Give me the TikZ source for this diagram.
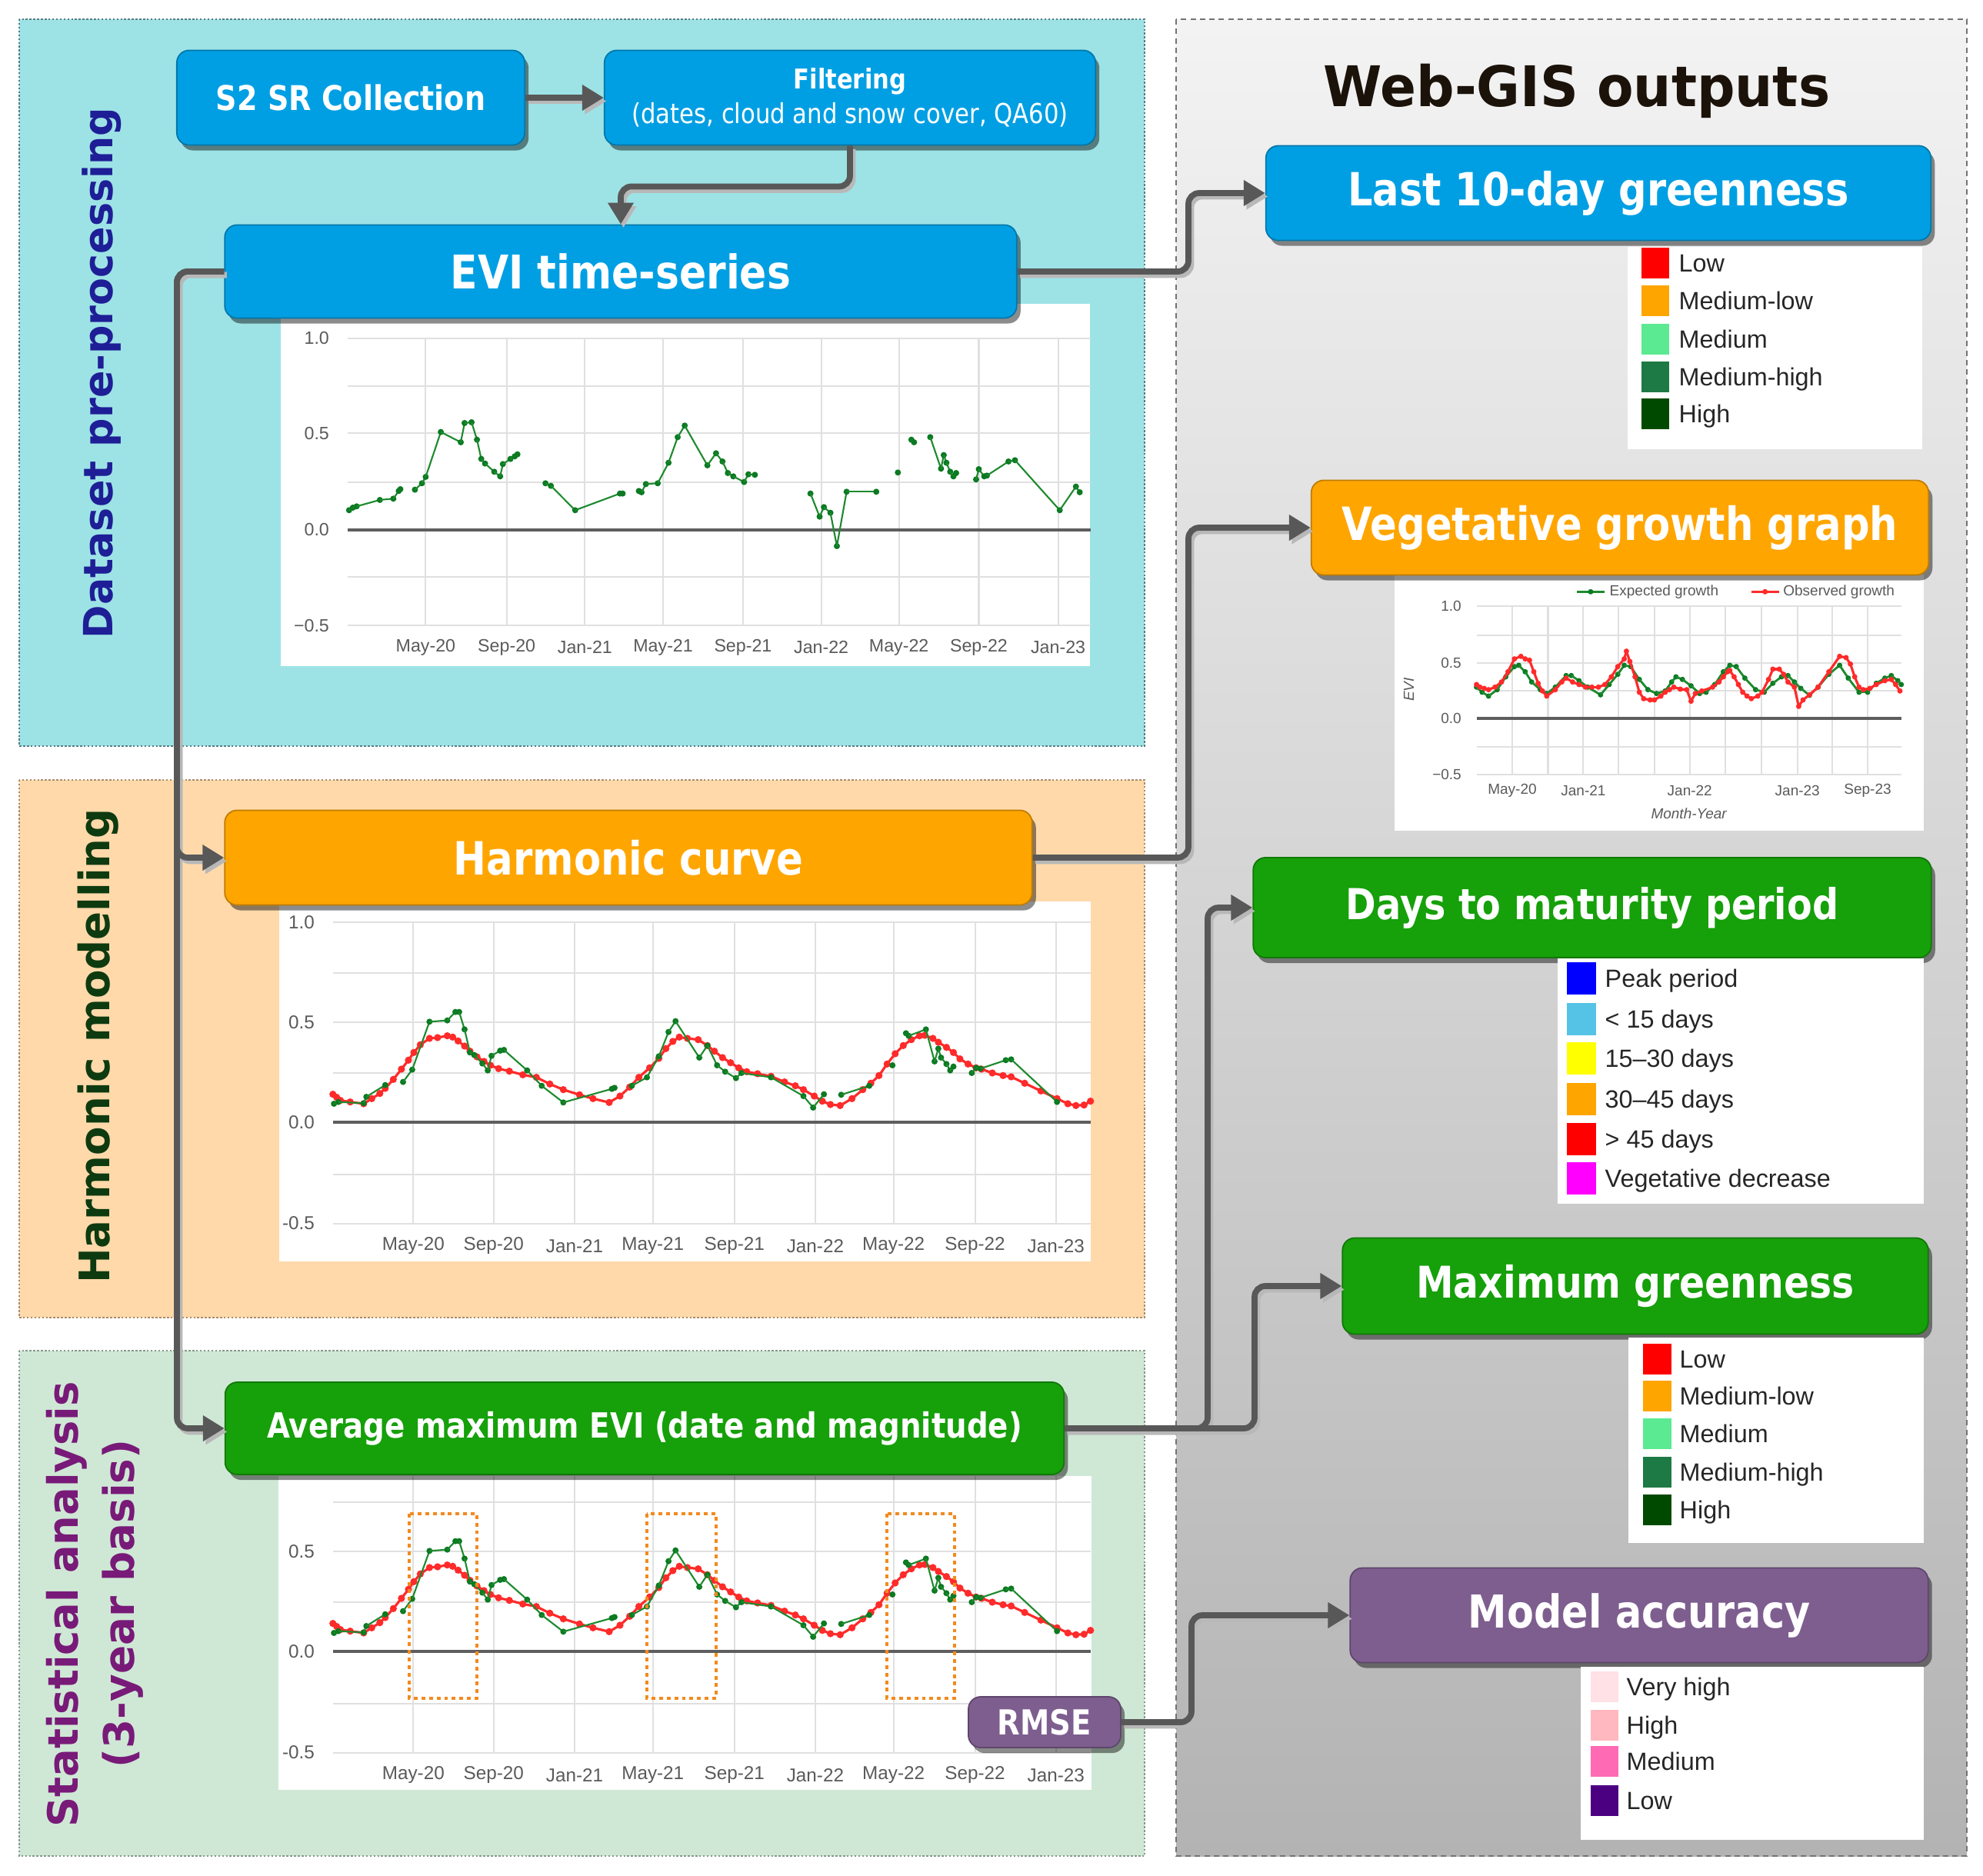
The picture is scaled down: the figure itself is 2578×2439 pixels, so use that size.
\documentclass[tikz,border=0pt]{standalone}
\usepackage{fontspec}
\setmainfont{Liberation Sans}
\newfontfamily\dvs{DejaVu Sans}
\usepackage{graphicx}
\usetikzlibrary{arrows.meta,shadows}
\definecolor{cblue}{HTML}{009FE3}
\definecolor{corange}{HTML}{FFA500}
\definecolor{cgreen}{HTML}{16A00A}
\definecolor{cpurple}{HTML}{7E5E8F}
\definecolor{pcyan}{HTML}{9DE3E6}
\definecolor{ppeach}{HTML}{FFD9AA}
\definecolor{pgreen}{HTML}{CFE8D5}
\definecolor{webtop}{HTML}{F3F3F3}
\definecolor{webbot}{HTML}{B3B3B3}
\definecolor{connc}{HTML}{585858}
\definecolor{navyt}{HTML}{1E1E96}
\definecolor{dgreent}{HTML}{0E3A10}
\definecolor{purpt}{HTML}{781A78}
\definecolor{titlec}{HTML}{1B120A}
\definecolor{gline}{HTML}{1D8A2E}
\definecolor{gdotc}{HTML}{0B7A22}
\definecolor{rline}{HTML}{FF2A2A}
\definecolor{gridc}{HTML}{E0E0E0}
\definecolor{axc}{HTML}{5E5E5E}
\definecolor{labc}{HTML}{5A5A5A}
\definecolor{sw1}{HTML}{FF0000}
\definecolor{sw2}{HTML}{FFA500}
\definecolor{sw3}{HTML}{5BEA91}
\definecolor{sw4}{HTML}{1E7A44}
\definecolor{sw5}{HTML}{004A00}
\definecolor{dm1}{HTML}{0000FF}
\definecolor{dm2}{HTML}{55C3E6}
\definecolor{dm3}{HTML}{FFFF00}
\definecolor{dm4}{HTML}{FFA500}
\definecolor{dm5}{HTML}{FF0000}
\definecolor{dm6}{HTML}{FF00FF}
\definecolor{ma1}{HTML}{FFE1E6}
\definecolor{ma2}{HTML}{FFB8BF}
\definecolor{ma3}{HTML}{FF6AB4}
\definecolor{ma4}{HTML}{4B0082}
\definecolor{orbox}{HTML}{F28A1E}
\newcommand{\fitw}[2]{\resizebox{#1}{!}{#2}}
\newcommand{\fitb}[2]{\resizebox{#1}{!}{\scalebox{0.86}[1]{#2}}}
\newcommand{\ser}[4]{\foreach \p [count=\i, remember=\p as \q (initially X)] in {#4}{\ifnum\i>1 \draw[#1] \q -- \p;\fi\fill[#2] \p circle[#3];}}
\newcommand{\harmplot}{%
\ser{rl}{rline}{x radius=6.6, y radius=14}{(118,818),(125,830),(132,842),(150,848),(175,855),(190,835),(205,815),(215,795),(230,760),(245,720),(258,685),(268,655),(280,625),(297,600),(312,597),(330,590),(340,595),(350,610),(362,630),(372,650),(385,672),(398,690),(410,705),(425,718),(445,728),(470,742),(495,752),(520,778),(545,800),(575,820),(600,835),(630,850),(650,825),(668,790),(685,752),(705,715),(722,678),(735,640),(748,612),(760,595),(775,600),(795,605),(812,628),(825,650),(840,675),(855,695),(870,715),(885,730),(905,738),(930,748),(955,770),(975,785),(990,800),(1010,825),(1025,845),(1040,858),(1058,862),(1080,835),(1100,800),(1115,775),(1130,745),(1145,700),(1160,660),(1175,628),(1190,605),(1205,590),(1215,588),(1230,600),(1240,615),(1255,635),(1268,655),(1280,680),(1295,700),(1310,715),(1320,720),(1340,735),(1360,745),(1375,750),(1400,775),(1430,805),(1460,835),(1480,855),(1495,862),(1510,860),(1522,845)}
\ser{gl}{gdotc}{x radius=5.7, y radius=12}{(120,855),(128,848),(175,853),(180,828),(215,782)}
\ser{gl}{gdotc}{x radius=5.7, y radius=12}{(248,770),(265,722),(297,535),(330,530),(345,497),(352,497),(362,565),(372,655),(380,665),(395,698),(405,725),(412,668),(428,648),(435,645),(478,725),(505,785),(545,850),(635,797),(640,793)}
\ser{gl}{gdotc}{x radius=5.7, y radius=12}{(672,785),(700,752),(722,670),(740,575),(753,533),(797,675),(812,628),(830,705),(845,730),(865,755),(875,735),(930,752),(990,825),(1008,870),(1028,818)}
\ser{gl}{gdotc}{x radius=5.7, y radius=12}{(1060,820),(1112,785)}
\ser{gl}{gdotc}{x radius=5.7, y radius=12}{(1155,705)}
\ser{gl}{gdotc}{x radius=5.7, y radius=12}{(1180,580),(1185,590),(1217,565),(1233,690),(1240,640),(1245,675),(1255,700),(1262,725),(1268,710)}
\ser{gl}{gdotc}{x radius=5.7, y radius=12}{(1302,735),(1310,715),(1318,718),(1365,685),(1375,682),(1460,848)}
}
\tikzset{
  box/.style={rounded corners=0.16cm, fill=#1, draw=#1!75!black, line width=0.5pt, text=white, inner sep=0pt,
    drop shadow={shadow xshift=0.05cm, shadow yshift=-0.07cm, opacity=0.45, fill=black}},
  conn/.style={draw=connc, line width=2.2pt, rounded corners=0.14cm, -{Triangle[length=0.28cm,width=0.32cm]}},
  connsh/.style={draw=black!28, line width=2.2pt, rounded corners=0.14cm, -{Triangle[length=0.28cm,width=0.32cm]},
    transform canvas={shift={(0.035cm,-0.045cm)}}},
  grid/.style={draw=gridc, line width=0.6pt},
  zero/.style={draw=axc, line width=1.1pt},
  gl/.style={draw=gline, line width=0.6pt},
  rl/.style={draw=rline, line width=0.9pt},
  xl1/.style={font=\fontsize{6.6}{7}\selectfont, text=labc, inner sep=0pt},
  xl2/.style={font=\fontsize{6.9}{7}\selectfont, text=labc, inner sep=0pt},
  xl4/.style={font=\fontsize{5.4}{6}\selectfont, text=labc, inner sep=0pt},
  leg/.style={anchor=base west, font=\fontsize{9.2}{11}\selectfont, text=black!85, inner sep=0pt},
  vlab/.style={rotate=90, inner sep=0pt},
}
\begin{document}
\begin{tikzpicture}[x=0.01cm, y=-0.01cm]
\useasboundingbox (0,0) rectangle (2578,2439);
\fill[white] (0,0) rectangle (2578,2439);
% ---------- panels
\fill[pcyan] (25,25) rectangle (1488,970);
\draw[draw=black!45!pcyan, line width=0.6pt, dash pattern=on 0.7pt off 0.7pt] (25,25) rectangle (1488,970);
\fill[ppeach] (25,1014) rectangle (1488,1713);
\draw[draw=black!35!ppeach, line width=0.6pt, dash pattern=on 0.7pt off 0.7pt] (25,1014) rectangle (1488,1713);
\fill[pgreen] (25,1756) rectangle (1488,2413);
\draw[draw=black!35!pgreen, line width=0.6pt, dash pattern=on 0.7pt off 0.7pt] (25,1756) rectangle (1488,2413);
\shade[top color=webtop, bottom color=webbot] (1529,25) rectangle (2557,2413);
\draw[draw=black!55, line width=0.5pt, dash pattern=on 2pt off 1.5pt] (1529,25) rectangle (2557,2413);
% ---------- chart 1 (EVI time-series)
\begin{scope}[shift={(350,380)}, xscale=0.7015, yscale=0.3333]
\fill[white] (21,45) rectangle (1521,1458);
\foreach \y in {180,367,550,740,1110,1300} \draw[grid] (145,\y) -- (1522,\y);
\foreach \x in {290,440,585,730,878,1023,1167,1315,1462} \draw[grid] (\x,180) -- (\x,1300);
\draw[zero] (145,927) -- (1522,927);
\foreach \x/\t [count=\i] in {290/May-20,440/Sep-20,585/Jan-21,730/May-21,878/Sep-21,1023/Jan-22,1167/May-22,1315/Sep-22,1462/Jan-23}
  \node[xl1] (ax\i) at (\x,1385) {\t};
\foreach \y/\t [count=\i] in {180/1.0,550/0.5,927/0.0,1300/−0.5}
  \node[xl1, anchor=east] (ay\i) at (112,\y) {\t};
\ser{gl}{gdotc}{x radius=5.7, y radius=12}{(148,850),(155,840),(162,835),(205,810),(230,805),(240,775),(243,768)}
\ser{gl}{gdotc}{x radius=5.7, y radius=12}{(270,770),(283,745),(290,720),(318,545),(355,585),(362,510),(375,507),(385,575),(393,650),(400,668),(417,700),(428,718),(433,670),(447,650),(455,640),(460,632)}
\ser{gl}{gdotc}{x radius=5.7, y radius=12}{(512,745),(522,755),(567,850),(650,785),(655,785)}
\ser{gl}{gdotc}{x radius=5.7, y radius=12}{(685,775),(690,780),(698,748),(720,745),(740,665),(757,565),(770,520),(812,675),(828,628),(840,660),(850,705),(860,718),(880,740),(888,710),(900,712)}
\ser{gl}{gdotc}{x radius=5.7, y radius=12}{(1003,785),(1020,875),(1028,838),(1040,860),(1052,990),(1070,778),(1125,778)}
\ser{gl}{gdotc}{x radius=5.7, y radius=12}{(1165,703)}
\ser{gl}{gdotc}{x radius=5.7, y radius=12}{(1190,575),(1195,585)}
\ser{gl}{gdotc}{x radius=5.7, y radius=12}{(1225,565),(1245,688),(1250,635),(1255,665),(1262,700),(1268,718),(1273,705)}
\ser{gl}{gdotc}{x radius=5.7, y radius=12}{(1310,730),(1315,690),(1325,718),(1330,715),(1370,660),(1382,655),(1465,850),(1495,758),(1502,780)}
\end{scope}
% ---------- chart 2 (harmonic)
\begin{scope}[shift={(350,1150)}, xscale=0.7015, yscale=0.3333]
\fill[white] (18,66) rectangle (1522,1470);
\foreach \y in {148,345,537,735,1130,1322} \draw[grid] (118,\y) -- (1522,\y);
\foreach \x in {267,416,566,711,862,1012,1157,1308,1458} \draw[grid] (\x,148) -- (\x,1322);
\draw[zero] (118,928) -- (1522,928);
\foreach \x/\t [count=\i] in {267/May-20,416/Sep-20,566/Jan-21,711/May-21,862/Sep-21,1012/Jan-22,1157/May-22,1308/Sep-22,1458/Jan-23}
  \node[xl2] (bx\i) at (\x,1410) {\t};
\foreach \y/\t [count=\i] in {148/1.0,537/0.5,928/0.0,1322/-0.5}
  \node[xl2, anchor=east] (by\i) at (85,\y) {\t};
\harmplot
\end{scope}
% ---------- chart 3 (statistics)
\begin{scope}[shift={(350,1838)}, xscale=0.7015, yscale=0.3333]
\fill[white] (17,243) rectangle (1524,1467);
\foreach \y in {345,537,735,1130,1322} \draw[grid] (118,\y) -- (1522,\y);
\foreach \x in {267,416,566,711,862,1012,1157,1308,1458} \draw[grid] (\x,243) -- (\x,1322);
\draw[zero] (118,928) -- (1522,928);
\foreach \x/\t [count=\i] in {267/May-20,416/Sep-20,566/Jan-21,711/May-21,862/Sep-21,1012/Jan-22,1157/May-22,1308/Sep-22,1458/Jan-23}
  \node[xl2] (cx\i) at (\x,1410) {\t};
\foreach \y/\t [count=\i] in {537/0.5,928/0.0,1322/-0.5}
  \node[xl2, anchor=east] (cy\i) at (85,\y) {\t};
\harmplot
\end{scope}
\foreach \a/\b in {532/620,841/931,1153/1241}
  \draw[orbox, line width=1.4pt, dash pattern=on 1.4pt off 1.4pt] (\a,1968) rectangle (\b,2208);
% ---------- chart 4 (vegetative growth)
\begin{scope}[shift={(1700,600)}, xscale=0.56, yscale=0.3333]
\fill[white] (202,440) rectangle (1431,1440);
\foreach \y in {565,678,785,895,1113,1222} \draw[grid] (392,\y) -- (1378,\y);
\foreach \x in {475,558,640,722,805,887,970,1053,1137,1218,1300} \draw[grid] (\x,565) -- (\x,1222);
\draw[zero] (392,1003) -- (1378,1003);
\foreach \x/\t [count=\i] in {475/May-20,640/Jan-21,887/Jan-22,1137/Jan-23,1300/Sep-23}
  \node[xl4] (dx\i) at (\x,1285) {\t};
\foreach \y/\t [count=\i] in {565/1.0,785/0.5,1003/0.0,1222/−0.5}
  \node[xl4, anchor=east] (dy\i) at (358,\y) {\t};
\node[xl4, font=\fontsize{5.4}{6}\selectfont\itshape] (dxt) at (885,1372) {Month-Year};
\node[xl4, font=\fontsize{5.4}{6}\selectfont\itshape, rotate=90] (dyt) at (235,890) {EVI};
\draw[gl, line width=0.8pt] (625,508) -- (690,508);
\fill[gdotc] (657,508) circle[x radius=6.2, y radius=10.5];
\node[xl4, anchor=west] (lgE) at (700,508) {Expected growth};
\draw[rl] (1030,508) -- (1095,508);
\fill[rline] (1062,508) circle[x radius=6.2, y radius=10.5];
\node[xl4, anchor=west] (lgO) at (1103,508) {Observed growth};
\ser{gl, line width=0.8pt}{gdotc}{x radius=6.2, y radius=10.5}{(392,880),(405,900),(420,915),(440,890),(460,840),(480,800),(490,795),(505,820),(520,860),(540,890),(555,905),(575,880),(600,835),(612,835),(630,855),(650,880),(680,910),(700,870),(720,830),(735,795),(750,800),(770,850),(790,890),(810,905),(830,895),(845,860),(855,840),(870,850),(890,875),(910,905),(925,900),(945,870),(965,820),(980,795),(995,800),(1015,845),(1040,890),(1060,900),(1080,865),(1100,840),(1115,835),(1130,860),(1145,885),(1165,912),(1185,880),(1210,830),(1235,795),(1255,845),(1280,900),(1300,900),(1320,865),(1340,845),(1355,835),(1370,855),(1378,870)}
\ser{rl}{rline}{x radius=6.2, y radius=10.5}{(392,870),(400,880),(410,885),(420,890),(435,880),(450,860),(465,820),(480,770),(495,760),(505,770),(515,775),(525,820),(535,865),(545,895),(555,915),(575,890),(590,860),(600,845),(615,860),(630,870),(645,880),(660,880),(675,880),(690,870),(705,840),(720,800),(735,770),(740,740),(748,780),(760,840),(770,900),(780,925),(795,930),(805,930),(820,915),(830,900),(840,890),(850,880),(865,888),(880,890),(890,935),(900,905),(915,895),(940,880),(955,860),(965,840),(975,820),(980,815),(990,840),(1000,870),(1010,900),(1020,915),(1030,925),(1045,915),(1055,900),(1070,850),(1080,810),(1095,810),(1105,830),(1115,860),(1130,880),(1140,955),(1150,930),(1165,910),(1185,880),(1210,820),(1235,760),(1250,765),(1260,790),(1270,840),(1280,880),(1290,890),(1305,885),(1320,870),(1340,855),(1355,850),(1365,870),(1375,895)}
\end{scope}
% ---------- vertical panel labels
\node[vlab, text=navyt] (lab1) at (132,485) {\fitw{6.9cm}{\dvs\bfseries Dataset pre-processing}};
\node[vlab, text=dgreent] (lab2) at (128,1360) {\fitw{6.17cm}{\dvs\bfseries Harmonic modelling}};
\node[vlab, text=purpt] (lab3) at (87,2086) {\fitw{5.79cm}{\dvs\bfseries Statistical analysis}};
\node[vlab, text=purpt] (lab4) at (160,2085) {\fitw{4.27cm}{\dvs\bfseries (3-year basis)}};
% ---------- title
\node[text=titlec, inner sep=0pt] (title) at (2050,118) {\resizebox{6.58cm}{!}{\scalebox{0.95}[1]{\dvs\bfseries Web-GIS outputs}}};
% ---------- process boxes
\node[box=cblue, minimum width=4.52cm, minimum height=1.23cm] (s2) at (456,127) {\fitb{3.5cm}{\dvs\bfseries S2 SR Collection}};
\node[box=cblue, minimum width=6.38cm, minimum height=1.23cm, align=center] (filt) at (1105,127) {\fitb{1.46cm}{\dvs\bfseries Filtering}\\[1pt]\fitb{5.67cm}{\dvs (dates, cloud and snow cover, QA60)}};
\node[box=cblue, minimum width=10.29cm, minimum height=1.21cm] (evi) at (807,353) {\fitb{4.42cm}{\dvs\bfseries EVI time-series}};
\node[box=corange, minimum width=10.49cm, minimum height=1.23cm] (harm) at (817,1115) {\fitb{4.54cm}{\dvs\bfseries Harmonic curve}};
\node[box=cgreen, minimum width=10.9cm, minimum height=1.2cm] (avg) at (838,1857) {\fitb{9.81cm}{\dvs\bfseries Average maximum EVI (date and magnitude)}};
\node[box=cpurple, minimum width=1.98cm, minimum height=0.66cm] (rmse) at (1358,2239) {\fitb{1.22cm}{\dvs\bfseries RMSE}};
% ---------- output boxes
\node[box=cblue, minimum width=8.64cm, minimum height=1.23cm] (last10) at (2078,251) {\fitb{6.51cm}{\dvs\bfseries Last 10-day greenness}};
\node[box=corange, minimum width=8.02cm, minimum height=1.23cm] (veg) at (2106,686) {\fitb{7.22cm}{\dvs\bfseries Vegetative growth graph}};
\node[box=cgreen, minimum width=8.81cm, minimum height=1.3cm] (days) at (2070,1180) {\fitb{6.4cm}{\dvs\bfseries Days to maturity period}};
\node[box=cgreen, minimum width=7.61cm, minimum height=1.25cm] (maxg) at (2126,1672) {\fitb{5.69cm}{\dvs\bfseries Maximum greenness}};
\node[box=cpurple, minimum width=7.51cm, minimum height=1.23cm] (model) at (2131,2100) {\fitb{4.44cm}{\dvs\bfseries Model accuracy}};
% ---------- connectors
\coordinate (lb) at (230,353);
\coordinate (r1) at (1545,353);
\coordinate (r2) at (1545,1115);
\coordinate (r3) at (1570,1857);
\coordinate (r4) at (1631,1857);
\coordinate (r5) at (1549,2239);
\foreach \st in {connsh,conn}{
\draw[\st] (s2.east) -- (filt.west);
\draw[\st] (filt.south) -- ++(0,53) -| (evi.north);
\draw[\st] (evi.west) -- (lb) |- (harm.west);
\draw[\st] (evi.west) -- (lb) |- (avg.west);
\draw[\st] (evi.east) -- (r1) |- (last10.west);
\draw[\st] (harm.east) -- (r2) |- (veg.west);
\draw[\st] (avg.east) -- (r3) |- (days.west);
\draw[\st] (avg.east) -- (r4) |- (maxg.west);
\draw[\st] (rmse.east) -- (r5) |- (model.west);
}
% ---------- legends
\fill[white] (2116,321) rectangle (2499,584);
\foreach \y/\c/\t [count=\i] in {342/sw1/Low,391/sw2/Medium-low,441/sw3/Medium,490/sw4/Medium-high,538/sw5/High}{
  \fill[\c] (2134,\y-20) rectangle (2170,\y+20);
  \node[leg] (la\i) at (2182,\y+11) {\t};}
\fill[white] (2025,1246) rectangle (2501,1565);
\foreach \y/\c/\t [count=\i] in {1272/dm1/Peak period,1325/dm2/< 15 days,1376/dm3/15–30 days,1429/dm4/30–45 days,1481/dm5/> 45 days,1532/dm6/Vegetative decrease}{
  \fill[\c] (2037,\y-21) rectangle (2075,\y+21);
  \node[leg] (lb\i) at (2086,\y+11) {\t};}
\fill[white] (2117,1739) rectangle (2501,2006);
\foreach \y/\c/\t [count=\i] in {1767/sw1/Low,1815/sw2/Medium-low,1864/sw3/Medium,1914/sw4/Medium-high,1963/sw5/High}{
  \fill[\c] (2136,\y-20) rectangle (2173,\y+20);
  \node[leg] (lc\i) at (2183,\y+11) {\t};}
\fill[white] (2055,2167) rectangle (2501,2392);
\foreach \y/\c/\t [count=\i] in {2193/ma1/Very high,2243/ma2/High,2290/ma3/Medium,2341/ma4/Low}{
  \fill[\c] (2068,\y-20) rectangle (2104,\y+20);
  \node[leg] (ld\i) at (2114,\y+11) {\t};}
\end{tikzpicture}
\end{document}
